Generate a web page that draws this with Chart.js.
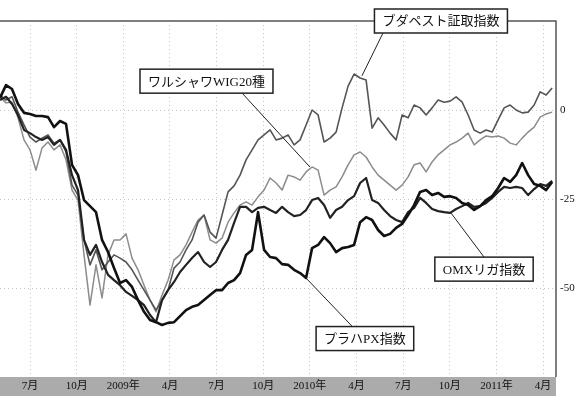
<!DOCTYPE html>
<html>
<head>
<meta charset="utf-8">
<script src="https://cdn.jsdelivr.net/npm/chart.js@4.4.1/dist/chart.umd.min.js"></script>
<style>
  html, body { margin: 0; padding: 0; background: #fff; }
  #wrap { width: 576px; height: 401px; }
</style>
</head>
<body>
<div id="wrap"><canvas id="chart"></canvas></div>
<script>
// x axis is in months counted from Jan 2008, one sample roughly every 12 days
var startMonth = 4.07;
var stepMonth = 0.386;
var endMonth = 39.83;

var tickMonths = [6, 9, 12, 15, 18, 21, 24, 27, 30, 33, 36, 39];
var tickLabels = ["7月", "10月", "2009年", "4月", "7月", "10月", "2010年", "4月", "7月", "10月", "2011年", "4月"];
var yTicks = [-50, -25, 0];

// % change
var prague = [3.4, 7.0, 5.9, 1.7, -0.8, -1.1, -1.7, -1.7, -2.0, -4.8, -3.1, -3.9, -15.4, -18.3, -25.3, -27.0,
  -28.7, -36.5, -39.9, -44.4, -48.6, -47.8, -49.7, -53.4, -56.7, -59.0, -59.6, -60.4, -59.8, -59.6, -57.9, -56.2,
  -55.3, -54.8, -53.4, -52.0, -50.6, -50.6, -48.6, -47.8, -45.8, -40.7, -39.3, -28.7, -39.3, -41.3, -41.6, -43.3,
  -43.5, -44.9, -45.8, -47.2, -38.8, -37.9, -35.7, -37.4, -39.9, -38.8, -38.5, -37.9, -31.5, -30.1, -30.9, -33.7,
  -35.4, -34.8, -33.1, -32.0, -29.5, -26.7, -23.0, -22.5, -23.9, -23.3, -24.4, -24.2, -24.7, -26.1, -26.7, -28.1,
  -27.0, -25.3, -24.2, -21.9, -19.1, -20.2, -18.3, -14.9, -18.3, -20.8, -21.3, -22.5, -20.2];

var riga = [2.8, 3.7, 1.7, -1.4, -5.6, -6.5, -7.6, -8.4, -7.6, -9.8, -8.4, -11.2, -18.3, -22.5, -36.5, -40.7,
  -37.9, -42.7, -46.3, -47.8, -49.2, -51.1, -52.2, -53.4, -54.8, -57.6, -59.6, -53.4, -50.6, -48.3, -45.5, -43.5,
  -41.6, -39.9, -42.7, -44.1, -42.7, -39.3, -36.5, -31.7, -27.2, -27.2, -28.7, -27.5, -27.2, -28.1, -28.9, -27.2,
  -28.7, -29.8, -29.5, -28.1, -25.3, -24.7, -26.7, -30.3, -28.1, -27.2, -25.3, -24.2, -20.5, -19.1, -25.3, -26.1,
  -28.1, -29.8, -30.9, -31.5, -28.7, -27.5, -24.7, -26.1, -27.8, -28.4, -28.7, -28.9, -27.8, -27.0, -26.1, -27.2,
  -27.0, -26.1, -24.7, -23.0, -21.6, -21.9, -21.6, -21.9, -23.9, -22.2, -20.8, -21.3, -19.9];

var budapest = [4.2, 2.8, 3.7, -0.6, -4.2, -7.6, -9.0, -7.9, -7.0, -9.3, -8.4, -11.8, -21.1, -23.9, -36.5, -43.5,
  -39.3, -44.9, -42.7, -40.7, -41.6, -42.7, -44.9, -47.8, -50.6, -53.4, -56.2, -53.4, -50.6, -44.4, -42.7, -39.3,
  -36.5, -31.5, -29.5, -34.3, -36.0, -29.5, -23.0, -21.3, -18.3, -14.0, -11.2, -8.4, -7.0, -5.6, -8.4, -7.9,
  -7.0, -9.8, -8.4, -4.2, 0, -1.4, -9.0, -7.9, -6.2, 0.6, 6.7, 10.1, 9.0, 8.4, -5.1, -2.2,
  -4.2, -6.5, -8.4, -1.4, -2.2, 1.4, 0.6, -1.4, 0.6, 2.8, 2.2, 2.5, 3.7, 2.2, -1.4, -5.6,
  -6.5, -5.6, -6.2, -2.8, 0.6, 1.4, 0, -0.8, -0.6, 1.4, 5.1, 4.2, 6.2];

var warsaw = [3.7, 2.0, 2.2, -2.2, -8.4, -11.2, -16.9, -10.7, -9.0, -11.2, -9.8, -14.0, -22.5, -25.3, -40.7, -54.8,
  -43.5, -52.8, -40.7, -36.5, -36.5, -34.8, -41.6, -44.9, -49.2, -53.4, -56.7, -52.0, -47.8, -42.1, -40.7, -37.9,
  -34.3, -30.9, -29.5, -36.5, -37.4, -36.0, -31.5, -28.9, -26.7, -25.8, -26.7, -24.4, -22.5, -19.1, -20.5, -22.5,
  -18.3, -18.8, -19.7, -17.4, -16.0, -16.9, -23.9, -22.5, -21.6, -18.8, -15.4, -12.6, -11.8, -13.2, -16.0, -18.3,
  -19.7, -21.1, -22.5, -21.1, -18.8, -15.4, -14.9, -17.4, -14.6, -12.6, -11.2, -9.8, -9.0, -7.9, -6.5, -9.8,
  -8.4, -7.3, -7.6, -7.3, -7.9, -9.3, -9.8, -7.9, -6.2, -4.8, -2.0, -1.1, -0.6];

// boxed captions: text, box centre, leader start, leader end (all in month / % units)
var captionText = ["ブダペスト証取指数", "ワルシャワWIG20種", "OMXリガ指数", "プラハPX指数"];
var captionAt = [[32.43, 25.0], [17.35, 8.1], [35.2, -44.7], [27.54, -64.2]];
var leaderFrom = [[28.70, 21.6], [19.63, 4.8], [35.2, -41.3], [26.77, -61.0]];
var leaderTo = [[27.35, 9.6], [24.0, -16.0], [33.07, -28.9], [23.75, -47.2]];

var serif = '"Liberation Serif", "Noto Sans CJK JP", serif';

function toPoints(values) {
  return values.map(function (v, i) {
    return { x: startMonth + i * stepMonth, y: v };
  });
}

var framePlugin = {
  id: "frame",
  beforeDraw: function (chart) {
    var ctx = chart.ctx;
    var a = chart.chartArea;
    // grey band behind the month labels
    ctx.save();
    ctx.fillStyle = "#ababab";
    ctx.fillRect(0, a.bottom, a.right, 19);
    ctx.restore();
  },
  afterDatasetsDraw: function (chart) {
    var ctx = chart.ctx;
    var a = chart.chartArea;
    var xs = chart.scales.x;
    var ys = chart.scales.y;

    ctx.save();
    ctx.strokeStyle = "#555";
    ctx.lineWidth = 1.5;
    ctx.beginPath();
    ctx.moveTo(0, a.top);
    ctx.lineTo(a.right, a.top);
    ctx.lineTo(a.right, a.bottom);
    ctx.stroke();

    // leader lines
    ctx.strokeStyle = "#222";
    ctx.lineWidth = 1;
    for (var i = 0; i < captionText.length; i++) {
      ctx.beginPath();
      ctx.moveTo(xs.getPixelForValue(leaderFrom[i][0]), ys.getPixelForValue(leaderFrom[i][1]));
      ctx.lineTo(xs.getPixelForValue(leaderTo[i][0]), ys.getPixelForValue(leaderTo[i][1]));
      ctx.stroke();
    }

    // boxes
    ctx.font = "13px " + serif;
    ctx.textAlign = "center";
    ctx.textBaseline = "middle";
    for (var j = 0; j < captionText.length; j++) {
      var cx = xs.getPixelForValue(captionAt[j][0]);
      var cy = ys.getPixelForValue(captionAt[j][1]);
      var w = ctx.measureText(captionText[j]).width + 16;
      var h = 24;
      ctx.fillStyle = "#fff";
      ctx.fillRect(cx - w / 2, cy - h / 2, w, h);
      ctx.strokeStyle = "#222";
      ctx.lineWidth = 1.5;
      ctx.strokeRect(cx - w / 2, cy - h / 2, w, h);
      ctx.fillStyle = "#111";
      ctx.fillText(captionText[j], cx, cy + 1);
    }
    ctx.restore();
  }
};

var ctx = document.getElementById("chart");
var chart = new Chart(ctx, {
  type: "line",
  data: {
    datasets: [
      { label: "プラハPX指数", data: toPoints(prague), borderColor: "#111", borderWidth: 2.6 },
      { label: "OMXリガ指数", data: toPoints(riga), borderColor: "#222", borderWidth: 2.2 },
      { label: "ブダペスト証取指数", data: toPoints(budapest), borderColor: "#555", borderWidth: 1.6 },
      { label: "ワルシャワWIG20種", data: toPoints(warsaw), borderColor: "#8c8c8c", borderWidth: 1.5 },
    ],
  },
  options: {
    animation: false,
    responsive: true,
    maintainAspectRatio: false,
    devicePixelRatio: 1,
    layout: { padding: { top: 21, left: 0, right: 0, bottom: 0 } },
    elements: {
      point: { radius: 0 },
      line: { tension: 0, borderJoinStyle: "round", fill: false },
    },
    plugins: {
      legend: { display: false },
      tooltip: { enabled: false },
    },
    scales: {
      x: {
        type: "linear",
        min: startMonth,
        max: endMonth,
        afterBuildTicks: function (s) {
          s.ticks = tickMonths.map(function (m) { return { value: m }; });
        },
        afterFit: function (s) { s.height = 24; },
        grid: { color: "#c4c4c4", lineWidth: 1, drawTicks: false },
        border: { display: false, dash: [1, 3] },
        ticks: {
          padding: 3,
          maxRotation: 0,
          autoSkip: false,
          color: "#111",
          font: { family: serif, size: 11 },
          callback: function (v, i) { return tickLabels[i]; },
        },
      },
      y: {
        position: "right",
        min: -75,
        max: 25,
        afterBuildTicks: function (s) {
          s.ticks = yTicks.map(function (v) { return { value: v }; });
        },
        afterFit: function (s) { s.width = 20; },
        grid: { color: "#c4c4c4", lineWidth: 1, drawTicks: false },
        border: { display: false, dash: [1, 3] },
        ticks: {
          padding: 4,
          color: "#111",
          font: { family: serif, size: 11 },
          callback: function (v) { return String(v); },
        },
      },
    },
  },
  plugins: [framePlugin],
});
</script>
</body>
</html>
